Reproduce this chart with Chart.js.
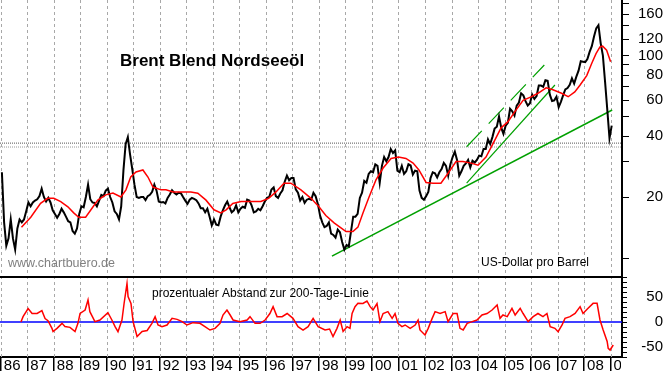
<!DOCTYPE html>
<html>
<head>
<meta charset="utf-8">
<script src="https://cdn.jsdelivr.net/npm/chart.js@4/dist/chart.umd.min.js"></script>
<style>
  html, body { margin: 0; padding: 0; background: #fff; }
  #wrap { width: 663px; height: 373px; position: relative; }
</style>
</head>
<body>
<div id="wrap"><canvas id="brentChart"></canvas></div>
<script>
// Brent monthly prices (USD/barrel), Jan 1986 .. Jan 2009
const startYear = 1986;
const brentMonthly = [
  26.5, 15, 11.5, 12.5, 15.5, 12.5, 11, 14, 15.5, 15, 15.5, 17,
  18.8, 18, 18.8, 19.2, 19.5, 20.2, 22, 20, 19, 19.8, 18.8, 17.2,
  16.5, 15.8, 16.5, 17.5, 16.8, 16, 15.2, 15, 13.6, 13.2, 14, 16.5,
  18, 17.8, 20, 23, 19.5, 18.8, 18.7, 18, 19.2, 20.5, 20.2, 21.5,
  22, 20, 18.8, 17, 16.5, 15.5, 18, 27, 36.5, 39.5, 32.5, 27.5,
  23, 20, 19.8, 20, 20, 19.3, 20.2, 20.5, 21.2, 23, 21.5, 19,
  18.8, 18.9, 18.6, 19.8, 20.6, 21.6, 21, 20.6, 21, 20.9, 20, 19.2,
  18.5, 19.4, 19.8, 19.6, 19.3, 18.6, 17.6, 17.6, 16.8, 17.5, 16, 14.5,
  15.5, 14.6, 14.5, 16, 17.2, 18.2, 19, 17.8, 16.8, 17.2, 18.2, 16.8,
  17.5, 17.9, 17.7, 19.4, 19.2, 18.2, 16.8, 17, 17.5, 17.2, 18, 19,
  19.8, 20, 21.8, 22.3, 20.2, 19.8, 20.8, 21.6, 23.8, 25.5, 24.2, 24.8,
  24.8, 21.8, 21, 19.2, 20, 18.7, 19.4, 19.6, 19.4, 21, 20.2, 18.5,
  16.2, 15, 14.2, 14.4, 15, 13.2, 13, 12.6, 13.8, 13.4, 12, 11,
  11.6, 11.4, 13.5, 16, 16, 16.5, 19.8, 21, 24, 23.5, 26, 26.8,
  26.5, 29, 28.5, 23.5, 28.5, 31.5, 30, 31.5, 34.5, 33, 34, 27,
  26.5, 28.5, 26, 26.8, 29, 28.6, 25.8, 27, 26.8, 21.5, 19.8, 19.4,
  20.2, 21.2, 24.8, 26.5, 26.2, 25, 26.5, 27.5, 29.5, 28.5, 25.5, 29,
  31.5, 33.5, 30.5, 25.5, 26.8, 28.5, 29.3, 30.5, 28, 30.2, 29.6, 30.5,
  32, 31.8, 34.5, 34.5, 38.5, 36.5, 39.5, 43.5, 44.5, 50, 44, 41,
  45, 46.5, 54.5, 53, 50.5, 56.5, 58.5, 65, 63.5, 59.5, 56.5, 58,
  64, 61, 63, 71, 71, 70, 75.5, 75, 64, 59.5, 60, 62.5,
  55.5, 59, 63.5, 68, 69, 71.5, 77, 72.5, 78.5, 84, 93.5, 93,
  92.5, 96, 104, 111, 124, 136, 141, 115, 100, 74, 54, 39,
  45
];

// 200-day moving average (red line)
const maYears = [
  1986.78, 1987.13, 1987.5, 1987.77, 1988.0, 1988.26, 1988.53, 1988.75, 1988.94, 1989.2,
  1989.4, 1989.66, 1989.96, 1990.23, 1990.53, 1990.72, 1990.9, 1991.1, 1991.36, 1991.55,
  1991.74, 1992.04, 1992.23, 1992.5, 1992.8, 1993.17, 1993.43, 1993.74, 1994.04, 1994.3,
  1994.5, 1994.75, 1995.06, 1995.43, 1995.81, 1996.1, 1996.38, 1996.68, 1996.94, 1997.32,
  1997.7, 1998.0, 1998.26, 1998.57, 1998.83, 1999.02, 1999.28, 1999.47, 1999.66, 1999.89,
  2000.15, 2000.42, 2000.72, 2001.0, 2001.28, 2001.55, 2001.77, 2002.04, 2002.3, 2002.6,
  2002.87, 2003.17, 2003.43, 2003.74, 2004.0, 2004.3, 2004.57, 2004.87, 2005.13, 2005.43,
  2005.7, 2006.0, 2006.26, 2006.57, 2006.8, 2007.15, 2007.4, 2007.65, 2007.85, 2008.1,
  2008.29, 2008.45, 2008.6, 2008.7, 2008.85, 2009.0
];
const maValues = [
  14.2, 15.9, 18.6, 19.7, 19.7, 19.0, 17.9, 16.7, 15.9, 15.9,
  17.3, 19.3, 20.5, 20.9, 20.0, 21.7, 25.1, 26.6, 27.2, 25.1,
  22.4, 21.7, 21.7, 21.2, 21.2, 21.2, 20.9, 19.3, 17.3, 16.7,
  17.3, 18.6, 19.0, 19.0, 19.0, 19.7, 21.2, 23.4, 23.4, 21.7,
  19.7, 17.9, 16.2, 14.9, 14.1, 13.5, 13.5, 14.2, 16.7, 20.0,
  24.3, 27.8, 31.0, 31.5, 31.0, 29.4, 27.2, 23.6, 23.4, 23.4,
  26.2, 29.9, 29.9, 29.4, 28.7, 31.5, 36.8, 43.9, 47.1, 53.7,
  60.0, 62.4, 65.0, 69.2, 67.9, 65.0, 62.5, 66.0, 71.4, 79.5,
  91.5, 102, 110, 111, 106, 93
];

// percentage distance to the 200-day line (lower panel)
const oscYears = [
  1986.76, 1986.84, 1987.03, 1987.18, 1987.37, 1987.55, 1987.67, 1987.78, 1987.93, 1987.97,
  1988.12, 1988.31, 1988.42, 1988.61, 1988.8, 1988.91, 1988.99, 1989.18, 1989.29, 1989.36,
  1989.55, 1989.74, 1990.04, 1990.19, 1990.31, 1990.42, 1990.57, 1990.65, 1990.76, 1990.8,
  1990.91, 1990.99, 1991.14, 1991.33, 1991.52, 1991.7, 1991.82, 1991.93, 1992.08, 1992.27,
  1992.46, 1992.65, 1992.84, 1993.02, 1993.25, 1993.51, 1993.7, 1993.89, 1994.08, 1994.27,
  1994.38, 1994.53, 1994.65, 1994.76, 1995.02, 1995.29, 1995.4, 1995.59, 1995.78, 1995.97,
  1996.15, 1996.27, 1996.42, 1996.61, 1996.8, 1997.02, 1997.21, 1997.4, 1997.59, 1997.78,
  1997.97, 1998.23, 1998.4, 1998.53, 1998.68, 1998.8, 1998.91, 1999.06, 1999.17, 1999.25,
  1999.36, 1999.47, 1999.66, 1999.81, 1999.93, 2000.04, 2000.19, 2000.3, 2000.42, 2000.6,
  2000.76, 2000.87, 2000.98, 2001.13, 2001.25, 2001.44, 2001.63, 2001.74, 2001.81, 2002.0,
  2002.12, 2002.27, 2002.38, 2002.57, 2002.76, 2002.87, 2003.06, 2003.21, 2003.32, 2003.44,
  2003.59, 2003.78, 2003.96, 2004.15, 2004.34, 2004.53, 2004.72, 2004.83, 2004.94, 2005.1,
  2005.28, 2005.4, 2005.59, 2005.7, 2005.89, 2006.08, 2006.26, 2006.45, 2006.6, 2006.72,
  2006.9, 2007.02, 2007.17, 2007.28, 2007.47, 2007.66, 2007.85, 2007.96, 2008.15, 2008.34,
  2008.49, 2008.6, 2008.72, 2008.87, 2008.91, 2008.98, 2009.1
];
const oscValues = [
  0, 10.7, 27, 17, 17, 22.7, 7, 2.7, -12.7, -19,
  -12.7, -2.7, -9, -10.7, -19, -2.7, 17, 24, 44, 20.7,
  0.7, 4, 18.7, 4, -9.3, -19.3, 4, 37, 77, 50.7,
  37, 0.7, -29, -19, -17, -2.7, 10.7, -6, -9.3, -6,
  7.3, 5.3, 0.7, -6, -1.3, -2.7, -9.3, -16, -12.7, -2.7,
  14, 24, 14, 4, 0.7, 4, 10.7, -2.7, -2.7, 4,
  17, 30.7, 10.7, 10.7, 17, 7.3, -9.3, -16, -9.3, 7.3,
  -9.3, -16, -14, -29, -12.7, 4, -19, -9.3, -12.7, 17,
  30.7, 37.3, 37, 42, 30.7, 24, 37, 0.7, 17, 20.7,
  7.3, 17, -2.7, -9.3, -6, -12.7, -6, 4, -16, -26,
  -12.7, 7.3, 20.7, 17, 20.7, 0.7, 17, 17, -12.7, -16,
  -2.7, 0.7, 4, 14, 17, 24, 34, 7.3, 14, 10.7,
  27.3, 14, 27.3, 17, 0.7, 10.7, 17, 10.7, 17, -9.3,
  -12.7, -19.3, -6, 7.3, 10.7, 17, 30.7, 17, 27.3, 37.3,
  37.3, 4, -16, -39, -52.7, -56, -46
];

// green trend lines
const trendYears = [1998.49, 2009.06];
const trendValues = [10.22, 53.75];
const channelLowYears = [2003.57, 2006.9];
const channelLowValues = [23.4, 71.4];
const channelHighYears = [2003.57, 2006.5];
const channelHighValues = [35.4, 89.6];

// dotted resistance levels
const levelValues = [36.9, 35.3];

// axes
const xMin = 1985.97;
const xMax = 2009.43;
const yearTicks = [];
for (let yr = 1986; yr <= 2009; yr++) yearTicks.push(yr);
const priceTicks = [10, 20, 30, 40, 50, 60, 70, 80, 90, 100, 120, 140, 160, 180];
const priceLabels = [20, 40, 60, 80, 100, 120, 160];
const oscTicks = [-70, -60, -50, -40, -30, -20, -10, 0, 10, 20, 30, 40, 50, 60, 70, 80, 90];
const oscLabels = [-50, 0, 50];

const pts = (xs, ys) => xs.map((x, i) => ({ x: x, y: ys[i] }));

const sansFont = '"Liberation Sans", Arial, sans-serif';
const narrowFont = '"Liberation Sans Narrow", "Arial Narrow", "Liberation Sans", Arial, sans-serif';
Chart.defaults.font.family = sansFont;

const decorations = {
  id: 'decorations',
  beforeDatasetsDraw(chart) {
    // dashed vertical year grid across both panels
    const ctx = chart.ctx;
    const x = chart.scales.x;
    const area = chart.chartArea;
    ctx.save();
    ctx.strokeStyle = '#a8a8a8';
    ctx.lineWidth = 1;
    ctx.setLineDash([3, 3]);
    yearTicks.forEach(yr => {
      const px = Math.round(x.getPixelForValue(yr)) + 0.5;
      if (px > area.right - 2) return;
      ctx.beginPath();
      ctx.moveTo(px, area.top);
      ctx.lineTo(px, area.bottom);
      ctx.stroke();
    });
    ctx.restore();
  },
  afterDraw(chart) {
    const ctx = chart.ctx;
    const x = chart.scales.x;
    const y2 = chart.scales.y2;
    ctx.save();

    // line between the two panels
    ctx.strokeStyle = '#000';
    ctx.lineWidth = 2;
    ctx.beginPath();
    ctx.moveTo(x.left, y2.top);
    ctx.lineTo(x.right, y2.top);
    ctx.stroke();

    // year labels
    ctx.save();
    ctx.beginPath();
    ctx.rect(x.left, x.top, x.right - 1 - x.left, x.height + 2);
    ctx.clip();
    ctx.font = '15px ' + narrowFont;
    ctx.fillStyle = '#000';
    ctx.textAlign = 'left';
    ctx.textBaseline = 'alphabetic';
    yearTicks.forEach(yr => {
      const px = x.getPixelForValue(yr);
      ctx.fillText(String(yr).slice(2), px + 3, 370);
    });
    ctx.restore();

    ctx.textAlign = 'left';
    ctx.textBaseline = 'alphabetic';
    ctx.fillStyle = '#000';
    ctx.font = 'bold 17px ' + sansFont;
    ctx.fillText('Brent Blend Nordseeöl', 120, 65.5);

    ctx.fillStyle = '#808080';
    ctx.font = '12.5px ' + sansFont;
    ctx.fillText('www.chartbuero.de', 8, 266.5);

    ctx.fillStyle = '#000';
    ctx.font = '12px ' + sansFont;
    ctx.fillText('US-Dollar pro Barrel', 481, 265.5);
    ctx.fillText('prozentualer Abstand zur 200-Tage-Linie', 152, 296.5);

    ctx.restore();
  }
};

const line = (data, color, width, axis, order, extra) => Object.assign({
  data: data,
  borderColor: color,
  borderWidth: width,
  pointRadius: 0,
  tension: 0,
  fill: false,
  yAxisID: axis,
  order: order
}, extra || {});

const ctx = document.getElementById('brentChart').getContext('2d');

new Chart(ctx, {
  type: 'line',
  data: {
    datasets: [
      line(brentMonthly.map((v, i) => ({ x: startYear + (i + 0.5) / 12, y: v })), '#000000', 2, 'y', 2),
      line(pts(maYears, maValues), '#ff0000', 1.5, 'y', 1),
      line(pts(trendYears, trendValues), '#00a000', 1.5, 'y', 3),
      line(pts(channelLowYears, channelLowValues), '#00a000', 1.2, 'y', 3),
      line(pts(channelHighYears, channelHighValues), '#00a000', 1.2, 'y', 3, { borderDash: [22, 10] }),
      line(pts([xMin, xMax], [levelValues[0], levelValues[0]]), '#555555', 1, 'y', 4, { borderDash: [1, 1] }),
      line(pts([xMin, xMax], [levelValues[1], levelValues[1]]), '#999999', 1, 'y', 4, { borderDash: [1, 1] }),
      line(pts(oscYears, oscValues), '#ff0000', 1.5, 'y2', 1),
      line(pts([xMin, xMax], [0, 0]), '#0000ff', 1.5, 'y2', 2)
    ]
  },
  options: {
    responsive: true,
    maintainAspectRatio: false,
    animation: false,
    devicePixelRatio: 1,
    layout: { padding: 0 },
    plugins: {
      legend: { display: false },
      tooltip: { enabled: false }
    },
    scales: {
      x: {
        type: 'linear',
        position: 'bottom',
        min: xMin,
        max: xMax,
        afterBuildTicks: s => { s.ticks = yearTicks.map(v => ({ value: v })); },
        afterFit: s => { s.height = 16; s.paddingLeft = 0; s.paddingRight = 0; },
        ticks: { display: false },
        grid: {
          drawOnChartArea: false,
          color: '#000',
          lineWidth: 1.5,
          tickLength: 14,
          tickColor: '#000',
          tickWidth: 1.5
        },
        border: { color: '#000', width: 2 }
      },
      y: {
        type: 'logarithmic',
        position: 'right',
        stack: 'panels',
        stackWeight: 277,
        min: 8.06,
        max: 187.6,
        afterBuildTicks: s => { s.ticks = priceTicks.map(v => ({ value: v })); },
        afterFit: s => { s.width = 41; s.paddingTop = 0; s.paddingBottom = 0; },
        ticks: {
          autoSkip: false,
          crossAlign: 'far',
          padding: 10,
          color: '#000',
          font: { family: narrowFont, size: 15 },
          callback: v => priceLabels.includes(v) ? String(v) : ''
        },
        grid: { drawOnChartArea: false, tickLength: 7, color: '#000', lineWidth: 1 },
        border: { color: '#000', width: 2 }
      },
      y2: {
        type: 'linear',
        position: 'right',
        stack: 'panels',
        stackWeight: 80,
        min: -70,
        max: 90,
        afterBuildTicks: s => { s.ticks = oscTicks.map(v => ({ value: v })); },
        afterFit: s => { s.width = 41; s.paddingTop = 0; s.paddingBottom = 0; },
        ticks: {
          autoSkip: false,
          crossAlign: 'far',
          padding: 15,
          color: '#000',
          font: { family: narrowFont, size: 15 },
          callback: v => oscLabels.includes(v) ? String(v) : ''
        },
        grid: { drawOnChartArea: false, tickLength: 5, color: '#000', lineWidth: 1 },
        border: { color: '#000', width: 2 }
      }
    }
  },
  plugins: [decorations]
});
</script>
</body>
</html>
